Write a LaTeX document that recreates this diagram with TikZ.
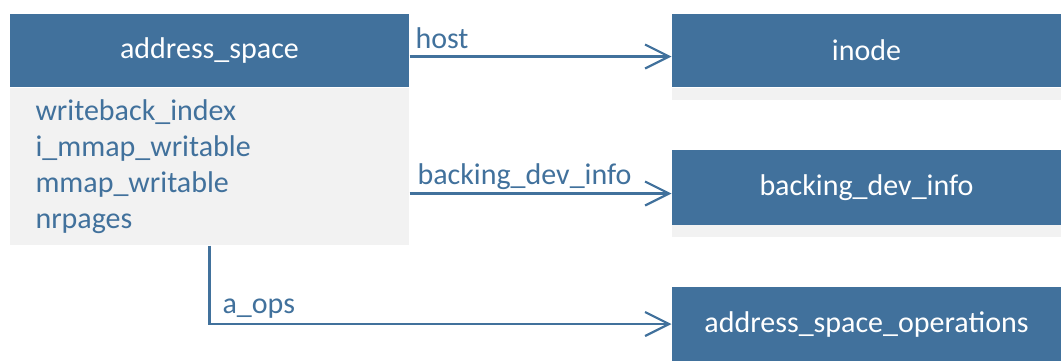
\documentclass[tikz,border=0pt]{standalone}
\usepackage{fontspec}
\setmainfont{Carlito}
\usetikzlibrary{arrows.meta}

\definecolor{boxblue}{RGB}{65,113,156}
\definecolor{boxgray}{RGB}{242,242,242}

\tikzset{every picture/.style={line width=0.75pt}}
\tikzset{
  headbox/.style={fill=boxblue, text=white, inner sep=0pt, font=\fontsize{22.5}{27}\selectfont},
  bodybox/.style={fill=boxgray, inner sep=0pt},
  fieldtext/.style={text=boxblue, inner sep=0pt, align=left, font=\fontsize{22.5}{27}\selectfont},
  linklabel/.style={text=boxblue, inner sep=0pt, font=\fontsize{22.5}{27}\selectfont},
  link/.style={draw=boxblue, line width=1.6pt, -{Straight Barb[length=18pt,width=18pt,line width=1.6pt]}}
}

\begin{document}
\begin{tikzpicture}[x=0.75pt,y=0.75pt,yscale=-1,xscale=1]
\useasboundingbox (0,0) rectangle (1061,361);

%Shape: Rectangle [address_space]
\node[headbox, minimum width=299.25pt, minimum height=54.75pt] (ashead) at (209.5,50.5) {address\_space};
\node[bodybox, minimum width=299.25pt, minimum height=117.75pt] (asbody) at (209.5,166.5) {};
% Text Node
\node[fieldtext, anchor=west] (asfields) at (35,166.5) {writeback\_index\\i\_mmap\_writable\\mmap\_writable\\nrpages};

%Shape: Rectangle [inode]
\node[headbox, minimum width=291.75pt, minimum height=54.75pt] (inode) at (866.5,50.5) {inode};
\fill[boxgray] (672,88) rectangle (1061,100);

%Shape: Rectangle [backing_dev_info]
\node[headbox, minimum width=291.75pt, minimum height=56.25pt] (bdi) at (866.5,187.5) {backing\_dev\_info};
\fill[boxgray] (672,225) rectangle (1061,237);

%Shape: Rectangle [address_space_operations]
\node[headbox, minimum width=291.75pt, minimum height=55.5pt] (aso) at (866.5,324) {address\_space\_operations};

% Connectors
\coordinate (inodein) at ([yshift=4.5pt]inode.west);
\coordinate (bdiin) at ([yshift=4.5pt]bdi.west);
\draw[link] (inodein -| ashead.east) -- (inodein);
\draw[link] (bdiin -| asbody.east) -- (bdiin);
\draw[link] (asbody.south) |- (aso.west);

% Text Node
\node[linklabel, anchor=base west] (hostlbl) at (415,48) {host};
% Text Node
\node[linklabel, anchor=base west] (bdilbl) at (417,184) {backing\_dev\_info};
% Text Node
\node[linklabel, anchor=base west] (aopslbl) at (222,313) {a\_ops};

\end{tikzpicture}
\end{document}
